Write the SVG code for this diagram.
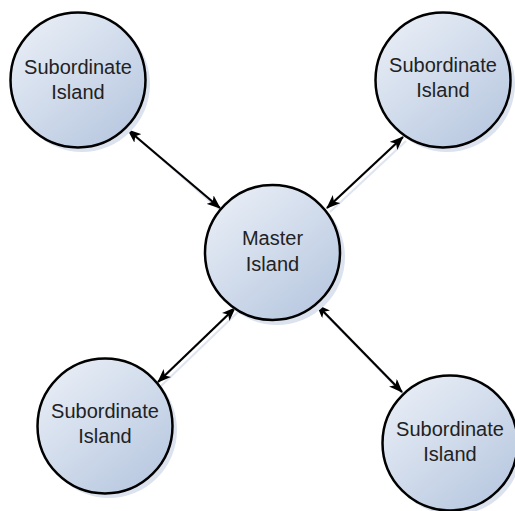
<svg xmlns="http://www.w3.org/2000/svg" width="515" height="511" viewBox="0 0 515 511">
<defs>
<linearGradient id="g" x1="0.15" y1="0.1" x2="0.85" y2="0.95">
<stop offset="0" stop-color="#e6ecf5"/>
<stop offset="1" stop-color="#b8c8e0"/>
</linearGradient>
<marker id="ah" viewBox="0 0 14 11" refX="13" refY="5.5" markerWidth="14" markerHeight="11" markerUnits="userSpaceOnUse" orient="auto-start-reverse">
<path d="M0,0 L14,5.5 L0,11 L3.5,5.5 Z" fill="#000"/>
</marker>
</defs>
<style>
.shadow{fill:#dce3ef;stroke:none}
.node{fill:url(#g);stroke:#000;stroke-width:2.5}
.lbl{font-family:"Liberation Sans",Arial,sans-serif;font-size:20px;fill:#222;text-anchor:middle}
.conn{stroke:#000;stroke-width:2.2;fill:none;marker-start:url(#ah);marker-end:url(#ah)}
.cshadow{stroke:#dfe5f0;stroke-width:2;fill:none}
</style>
<rect width="515" height="511" fill="#fff"/>
<g id="connectors">
<line class="cshadow" x1="132" y1="133" x2="222" y2="212"/>
<line class="cshadow" x1="406" y1="141" x2="330" y2="212"/>
<line class="cshadow" x1="238" y1="312" x2="161" y2="386"/>
<line class="cshadow" x1="320" y1="309" x2="405" y2="396"/>
<line class="conn" x1="128" y1="130" x2="220" y2="208"/>
<line class="conn" x1="403" y1="137" x2="327" y2="208"/>
<line class="conn" x1="235" y1="308" x2="158" y2="382"/>
<line class="conn" x1="317" y1="305" x2="402" y2="392"/>
</g>
<g id="sub-tl">
<circle class="shadow" cx="82" cy="84" r="68"/>
<circle class="node" cx="78" cy="80" r="67.5"/>
<text class="lbl" x="78" y="74">Subordinate</text>
<text class="lbl" x="78" y="99">Island</text>
</g>
<g id="sub-tr">
<circle class="shadow" cx="447" cy="84" r="68"/>
<circle class="node" cx="443" cy="80" r="67.5"/>
<text class="lbl" x="443" y="72">Subordinate</text>
<text class="lbl" x="443" y="97">Island</text>
</g>
<g id="master">
<circle class="shadow" cx="277" cy="257" r="68"/>
<circle class="node" cx="272.5" cy="252.5" r="67.5"/>
<text class="lbl" x="272.5" y="245">Master</text>
<text class="lbl" x="272.5" y="271">Island</text>
</g>
<g id="sub-bl">
<circle class="shadow" cx="109" cy="430" r="68"/>
<circle class="node" cx="105" cy="426" r="67.5"/>
<text class="lbl" x="105" y="418">Subordinate</text>
<text class="lbl" x="105" y="443">Island</text>
</g>
<g id="sub-br">
<circle class="shadow" cx="454" cy="447" r="68"/>
<circle class="node" cx="450" cy="443" r="67.5"/>
<text class="lbl" x="450" y="436">Subordinate</text>
<text class="lbl" x="450" y="461">Island</text>
</g>
</svg>
